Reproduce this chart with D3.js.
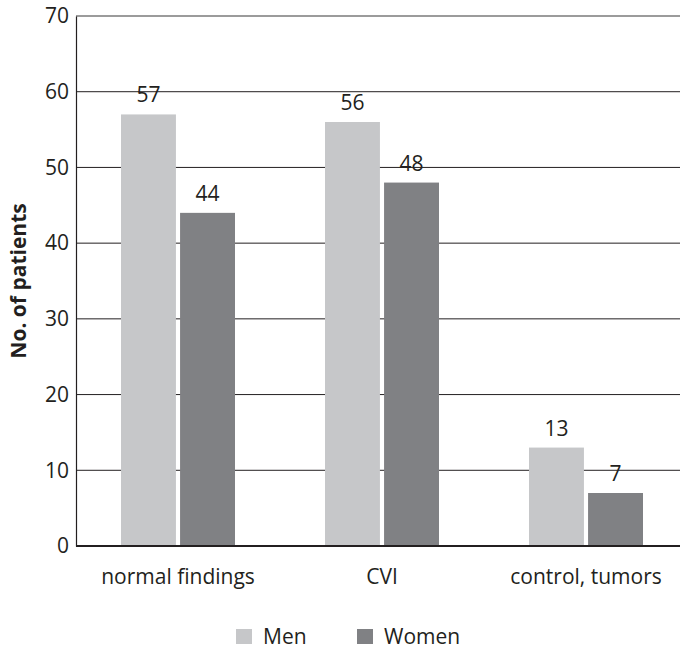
<!DOCTYPE html>
<html>
<head>
<meta charset="utf-8">
<script src="https://cdn.jsdelivr.net/npm/d3@7"></script>
<style>
  body { margin: 0; background: #fff; }
  text { font-family: "Open Sans", "Noto Sans", sans-serif; fill: #231f20; }
</style>
</head>
<body>
<svg id="chart" width="680" height="650"></svg>
<script>
// Patient counts by finding and sex
const categories = ["normal findings", "CVI", "control, tumors"];
const seriesNames = ["Men", "Women"];
const men = [57, 56, 13];
const women = [44, 48, 7];
const yTicks = [0, 10, 20, 30, 40, 50, 60, 70];
const colors = ["#c6c7c9", "#808184"];

const svg = d3.select("#chart");
const plotLeft = 76, plotRight = 688, plotTop = 16, plotBottom = 546;
const fontSize = "21px";

const x = d3.scaleBand().domain(categories).range([plotLeft, plotRight]).paddingInner(0).paddingOuter(0);
const xs = d3.scaleBand().domain(seriesNames).range([0, 114]).paddingInner(0.07);
const y = d3.scaleLinear().domain([0, 70]).range([plotBottom, plotTop]);

// horizontal grid
svg.append("g")
  .selectAll("line")
  .data(yTicks.filter(d => d > 0))
  .join("line")
  .attr("x1", plotLeft).attr("x2", 680)
  .attr("y1", d => y(d)).attr("y2", d => y(d))
  .attr("stroke", d => d === 70 ? "#7a7a7a" : "#231f20")
  .attr("stroke-width", d => d === 70 ? 1.4 : 1);

// y axis
const yAxis = svg.append("g")
  .attr("transform", `translate(${plotLeft},0)`)
  .call(d3.axisLeft(y).tickValues(yTicks).tickSize(0).tickPadding(7));
yAxis.select(".domain").attr("stroke", "#231f20").attr("stroke-width", 1.2);
yAxis.selectAll("text").style("font-size", fontSize).style("font-family", "'Open Sans', sans-serif").attr("fill", "#231f20");

const rows = categories.map((c, i) => ({ cat: c, vals: [men[i], women[i]] }));

const groups = svg.append("g").selectAll("g")
  .data(rows)
  .join("g")
  .attr("transform", d => `translate(${x(d.cat) + (x.bandwidth() - 114) / 2},0)`);

groups.selectAll("rect")
  .data(d => d.vals.map((v, i) => ({ name: seriesNames[i], v, i })))
  .join("rect")
  .attr("x", d => xs(d.name))
  .attr("width", xs.bandwidth())
  .attr("y", d => y(d.v))
  .attr("height", d => y(0) - y(d.v))
  .attr("fill", d => colors[d.i]);

groups.selectAll("text.val")
  .data(d => d.vals.map((v, i) => ({ name: seriesNames[i], v })))
  .join("text")
  .attr("class", "val")
  .attr("x", d => xs(d.name) + xs.bandwidth() / 2)
  .attr("y", d => y(d.v) - 12)
  .attr("text-anchor", "middle")
  .style("font-size", fontSize)
  .text(d => d.v);

// baseline
svg.append("line")
  .attr("x1", plotLeft).attr("x2", 680)
  .attr("y1", y(0)).attr("y2", y(0))
  .attr("stroke", "#231f20").attr("stroke-width", 2);

// category labels
svg.append("g").selectAll("text")
  .data(categories)
  .join("text")
  .attr("x", d => x(d) + x.bandwidth() / 2)
  .attr("y", 584)
  .attr("text-anchor", "middle")
  .style("font-size", fontSize)
  .text(d => d);

// y axis title
svg.append("text")
  .attr("transform", `translate(26,281) rotate(-90)`)
  .attr("text-anchor", "middle")
  .style("font-size", "21px")
  .style("font-weight", "bold")
  .text("No. of patients");

// legend
const legendX = [236, 357];
const legend = svg.append("g").selectAll("g")
  .data(seriesNames)
  .join("g")
  .attr("transform", (d, i) => `translate(${legendX[i]},629)`);
legend.append("rect").attr("width", 16).attr("height", 15).attr("fill", (d, i) => colors[i]);
legend.append("text").attr("x", 27).attr("y", 15).style("font-size", fontSize).text(d => d);
</script>
</body>
</html>
